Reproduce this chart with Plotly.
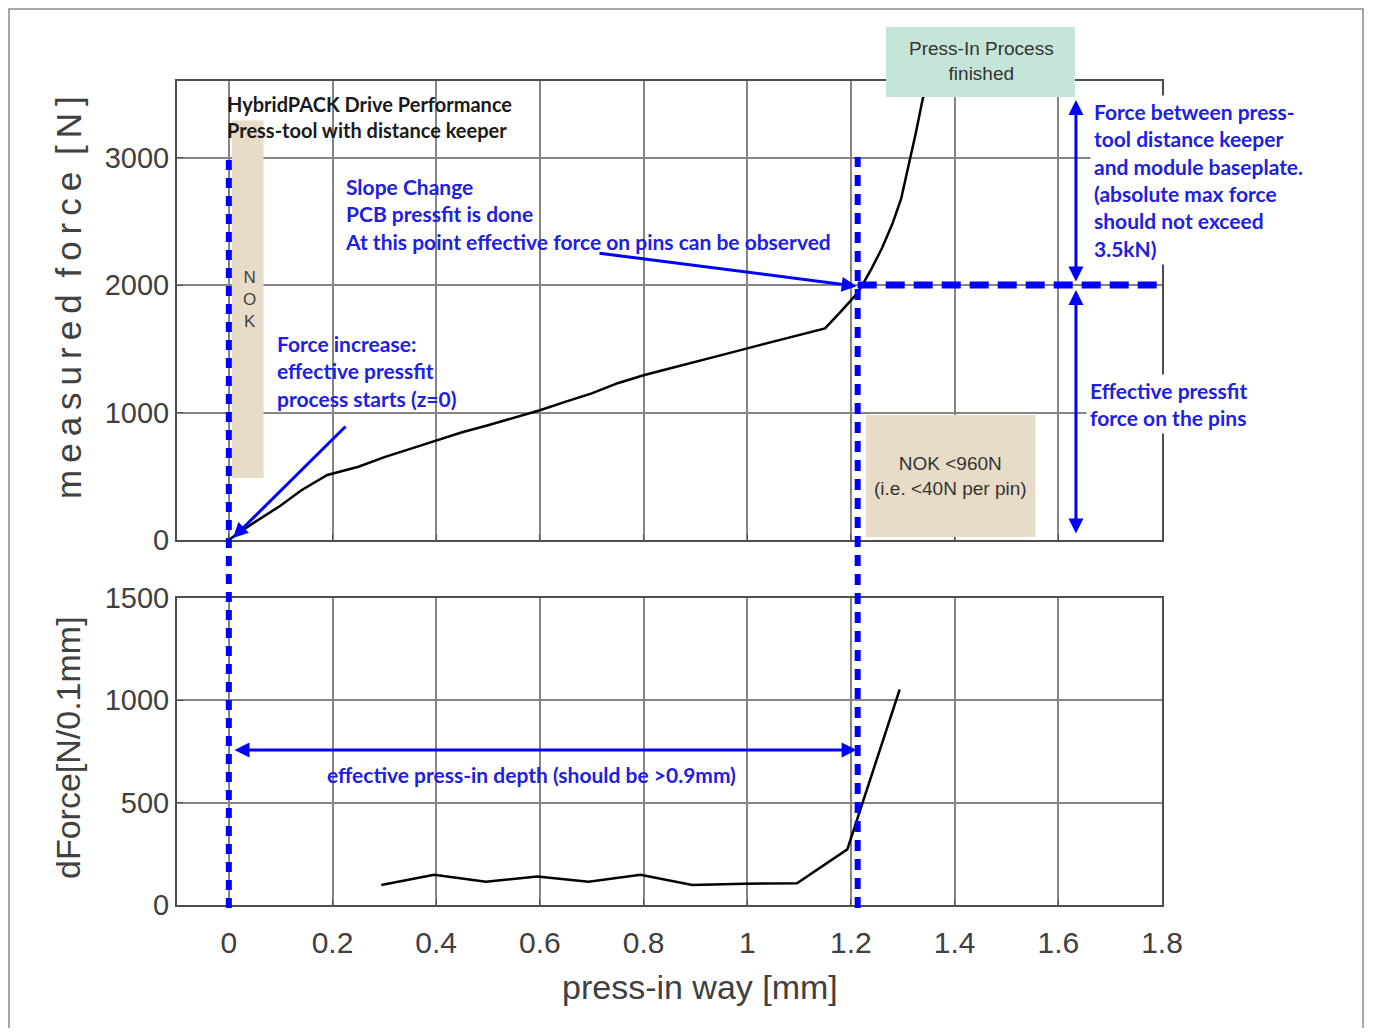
import plotly.graph_objects as go

# ---------------- data ----------------
way_force = [0.0, 0.02, 0.05, 0.08, 0.10, 0.14, 0.19, 0.25, 0.30, 0.35, 0.40, 0.45, 0.50,
             0.55, 0.60, 0.65, 0.70, 0.75, 0.80, 0.85, 0.90, 0.95, 1.00, 1.05, 1.10, 1.15,
             1.18, 1.212, 1.222, 1.24, 1.26, 1.28, 1.297, 1.311, 1.325, 1.338, 1.347]
force = [0, 60, 140, 215, 270, 390, 510, 575, 650, 715, 783, 845, 900,
         960, 1018, 1085, 1150, 1230, 1292, 1345, 1400, 1450, 1503, 1555, 1610, 1660,
         1790, 1934, 2000, 2130, 2290, 2480, 2680, 2930, 3190, 3450, 3600]

way_dforce = [0.294, 0.396, 0.496, 0.595, 0.694, 0.794, 0.894, 0.995, 1.096, 1.193, 1.294]
dforce = [98, 148, 114, 139, 114, 148, 98, 104, 106, 272, 1053]

x_ticks = [0, 0.2, 0.4, 0.6, 0.8, 1.0, 1.2, 1.4, 1.6, 1.8]
force_ticks = [0, 1000, 2000, 3000]
dforce_ticks = [0, 500, 1000, 1500]

z_start = 0.0          # start of effective pressfit
z_slope = 1.213        # slope change point
f_slope = 2000         # force at slope change
nok_force = 960

# ---------------- layout geometry (page pixels) ----------------
OFF = 8                      # page body margin
W, H = 1373 - 2 * OFF, 1036 - 2 * OFF
L, R, T, B = 177, 1162, 81, 905   # plot area in page pixels


def PX(px):
    return (px - L) / (R - L)


def PY(py):
    return (B - py) / (B - T)


BLUE = '#0000ff'
BLUE_TXT = '#2020e0'
GRID = '#858585'
AX = '#4d4d4d'
TXT = '#404040'
ARIAL = 'Liberation Sans, Arial, sans-serif'
CALIB = 'Lato, Open Sans, sans-serif'

fig = go.Figure()
fig.add_trace(go.Scatter(x=way_force, y=force, mode='lines',
                         line=dict(color='black', width=2.5),
                         xaxis='x', yaxis='y', showlegend=False))
fig.add_trace(go.Scatter(x=way_dforce, y=dforce, mode='lines',
                         line=dict(color='black', width=2.5),
                         xaxis='x2', yaxis='y2', showlegend=False))

axis_common = dict(range=[-0.1, 1.8], tickvals=x_ticks, showgrid=True, gridcolor=GRID,
                   gridwidth=1.6, showline=True, linecolor=AX, linewidth=2, mirror=True,
                   ticks='inside', ticklen=6, tickcolor=AX, zeroline=False)
yaxis_common = dict(showgrid=True, gridcolor=GRID, gridwidth=1.6, showline=True,
                    linecolor=AX, linewidth=2, mirror=True, ticks='inside', ticklen=6,
                    tickcolor=AX, zeroline=False,
                    tickfont=dict(family=ARIAL, size=29, color=TXT))

fig.update_layout(
    width=W, height=H,
    margin=dict(l=L - OFF, r=W - (R - OFF), t=T - OFF, b=H - (B - OFF), pad=0),
    paper_bgcolor='white', plot_bgcolor='white',
    showlegend=False,
    xaxis=dict(**axis_common, domain=[0, 1], anchor='y', showticklabels=False),
    xaxis2=dict(**axis_common, domain=[0, 1], anchor='y2', showticklabels=True,
                tickfont=dict(family=ARIAL, size=30, color=TXT), ticklabelstandoff=10),
    yaxis=dict(**yaxis_common, range=[0, 3600], tickvals=force_ticks,
               domain=[PY(540), 1], anchor='x'),
    yaxis2=dict(**yaxis_common, range=[0, 1500], tickvals=dforce_ticks,
                domain=[0, PY(598)], anchor='x2'),
)

shapes = []
# tan NOK column near z=0
shapes.append(dict(type='rect', xref='x', yref='y', x0=0.006, x1=0.067, y0=486, y1=3290,
                   fillcolor='#e8dbc7', line=dict(width=0), layer='above'))
# NOK < 960N box
shapes.append(dict(type='rect', xref='x', yref='y', x0=1.229, x1=1.556, y0=24, y1=nok_force + 20,
                   fillcolor='#e8dbc7', line=dict(width=0), layer='above'))
# Press-in process finished box
shapes.append(dict(type='rect', xref='paper', yref='paper', x0=PX(886), x1=PX(1075),
                   y0=PY(97), y1=PY(27), fillcolor='#c6e5d9', line=dict(width=0), layer='above'))
# vertical dotted line at z=0
shapes.append(dict(type='line', xref='x', yref='paper', x0=z_start, x1=z_start,
                   y0=PY(908), y1=PY(160), line=dict(color=BLUE, width=6, dash='10px,8px'),
                   layer='above'))
# vertical dashed line at slope change
shapes.append(dict(type='line', xref='x', yref='paper', x0=z_slope, x1=z_slope,
                   y0=PY(908), y1=PY(157), line=dict(color=BLUE, width=6, dash='11px,8px'),
                   layer='above'))
# horizontal dashed line at 2000 N
shapes.append(dict(type='line', xref='x', yref='y', x0=z_slope, x1=1.8,
                   y0=f_slope, y1=f_slope, line=dict(color=BLUE, width=7, dash='19px,9px'),
                   layer='above'))
# frame around figure
shapes.append(dict(type='rect', xref='paper', yref='paper', x0=PX(9), x1=PX(1363),
                   y0=PY(1045), y1=PY(9), line=dict(color='#8a8a8a', width=1.5),
                   fillcolor='rgba(0,0,0,0)', layer='below'))
fig.update_layout(shapes=shapes)

ann = []


def text(px, py, s, size=21, color=BLUE_TXT, family=CALIB, weight='bold', xanchor='left',
         align='left', bg=None, angle=0):
    d = dict(xref='paper', yref='paper', x=PX(px), y=PY(py), text=s, showarrow=False,
             xanchor=xanchor, yanchor='middle', align=align, textangle=angle,
             font=dict(family=family, size=size, color=color, weight=weight))
    if bg:
        d['bgcolor'] = bg
        d['borderpad'] = 3
    ann.append(d)


# axis titles
sp = '\u2009'
text(68, 298, sp.join('measured') + sp + ' ' + sp.join('force') + sp + ' ' + sp.join('[N]'),
     size=35, color=TXT, family=ARIAL, weight='normal', xanchor='center', align='center',
     angle=-90)
text(68, 748, 'dForce[N/0.1mm]', size=34, color=TXT, family=ARIAL, weight='normal',
     xanchor='center', align='center', angle=-90)
text(700, 987, 'press-in way [mm]', size=34, color=TXT, family=ARIAL, weight='normal',
     xanchor='center', align='center')

# title block
text(225, 117.5, 'HybridPACK Drive Performance<br>Press-tool with distance keeper',
     size=20, color='#1a1a1a', weight='bold')
# N O K letters
text(249, 299, 'N<br>O<br>K', size=17, color=TXT, family=ARIAL, weight='normal',
     xanchor='center', align='center')
# blue notes
text(343, 213.5, 'Slope Change<br>PCB pressfit is done<br>'
     'At this point effective force on pins can be observed')
text(275, 371, 'Force increase:<br>effective pressfit<br>process starts (z=0)')
text(1090, 180.5, 'Force between press-<br>tool distance keeper<br>and module baseplate.<br>'
     '(absolute max force<br>should not exceed<br>3.5kN)', bg='white')
text(1086, 403.5, 'Effective pressfit<br>force on the pins', bg='white')
text(531, 774, 'effective press-in depth (should be >0.9mm)', xanchor='center',
     align='center')
# box texts
text(981, 61, 'Press-In Process<br>finished', size=19, color='#333333', family=ARIAL,
     weight='normal', xanchor='center', align='center')
text(950, 476, 'NOK &lt;960N<br>(i.e. &lt;40N per pin)', size=19, color='#333333', family=ARIAL,
     weight='normal', xanchor='center', align='center')


def arrow(x, y, ax, ay, xr='x', yr='y', both=False):
    d = dict(xref=xr, yref=yr, axref=xr, ayref=yr, x=x, y=y, ax=ax, ay=ay, text='',
             showarrow=True, arrowhead=2, arrowsize=1.0, arrowwidth=3, arrowcolor=BLUE,
             standoff=0, startstandoff=0)
    if both:
        d['arrowside'] = 'end+start'
        d['startarrowhead'] = 2
        d['startarrowsize'] = 1.0
    ann.append(d)


arrow(z_slope - 0.002, f_slope - 10, 0.712, 2251)
arrow(0.008, 16, 0.228, 902)
arrow(1.634, 3451, 1.634, 2016, both=True)
arrow(1.634, 1961, 1.634, 39, both=True)
arrow(z_slope - 0.002, 757, 0.008, 757, xr='x2', yr='y2', both=True)

fig.update_layout(annotations=ann)
fig.write_html('out.html')
